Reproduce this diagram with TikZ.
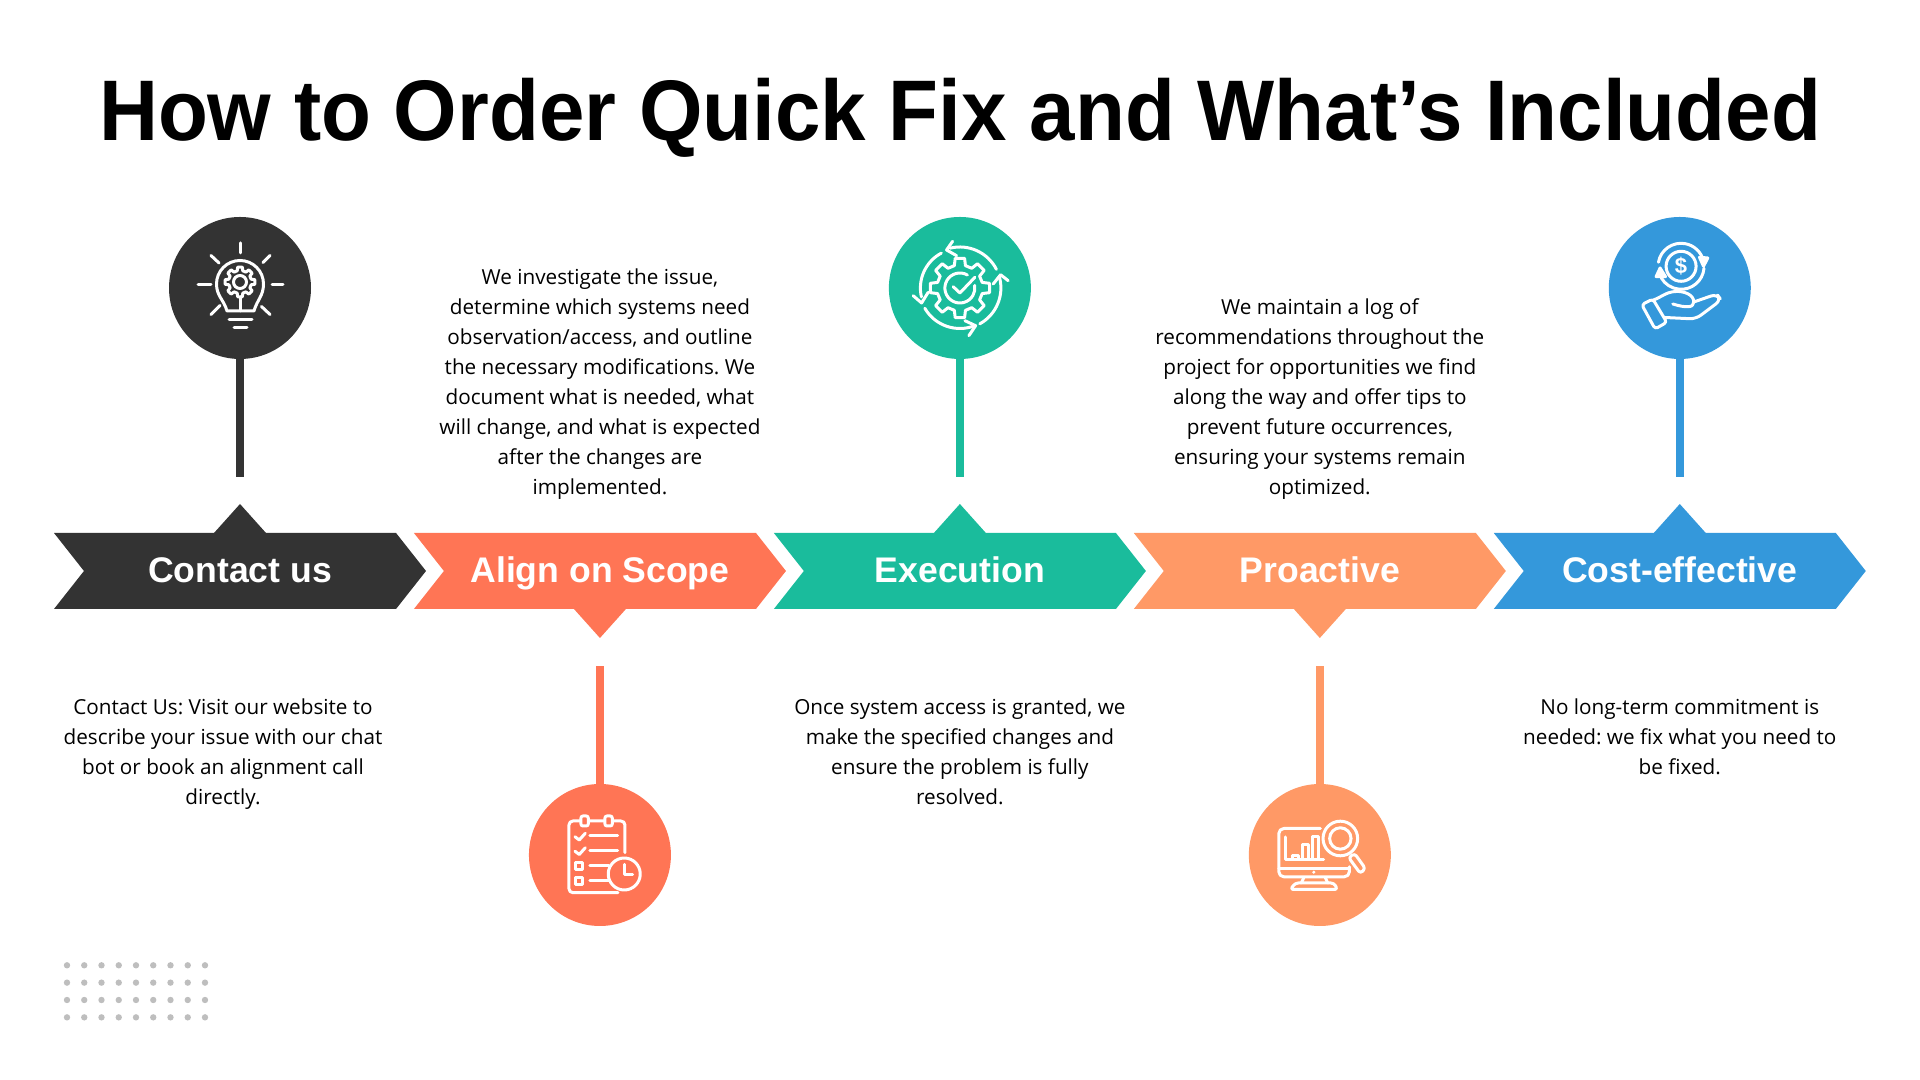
\documentclass[tikz,border=0pt]{standalone}
\usepackage{fontspec}
\setmainfont{Open Sans}
\newfontfamily\headfont{Liberation Sans}
\newfontfamily\titlefont[FakeStretch=.95]{Liberation Sans}
\usetikzlibrary{positioning,calc,shapes.symbols}
\definecolor{cdark}{HTML}{333333}
\definecolor{ccoral}{HTML}{FF7555}
\definecolor{cteal}{HTML}{1ABC9C}
\definecolor{corange}{HTML}{FF9966}
\definecolor{cblue}{HTML}{3498DB}
\definecolor{cdot}{HTML}{BEBEBE}
\tikzset{
  bar/.style   ={signal, signal to=east, signal from=west, signal pointer angle=103.5,
                 minimum width=186pt, minimum height=38pt, inner sep=0pt, outer sep=0pt,
                 text height=16pt, text depth=4.5pt,
                 text=white, font=\headfont\bfseries\fontsize{17.8}{20}\selectfont},
  disc/.style  ={circle, minimum size=71pt, inner sep=0pt, outer sep=0pt},
  stem/.style  ={line width=4pt},
  para/.style  ={align=center, text=black, inner sep=0pt, font=\frenchspacing\fontsize{10.35}{15}\selectfont},
  glyph/.style ={draw=white, line width=1.5pt, line cap=round, line join=round},
}
% cog outline: #1 inner radius, #2 outer radius
\newcommand{\cogpath}[2]{
  (-14:#1) \foreach \a in {0,45,...,315} {-- (\a-14:#1) -- (\a-9:#2) -- (\a+9:#2) -- (\a+14:#1)} -- cycle
}
\newcommand{\iconbulb}{
  \draw[glyph] (-13,-23) .. controls (-16,-12) and (-23.5,-8) .. (-23.5,4) arc[start angle=180, end angle=0, radius=23.5]
     .. controls (23.5,-8) and (17,-12) .. (14,-23) -- cycle;
  \draw[glyph] (0,6) ++(0,0) circle[radius=6.5];
  \begin{scope}[shift={(0,6)}]
    \draw[glyph] \cogpath{11.5}{15};
  \end{scope}
  \draw[glyph] (0,-9) -- (0,-23);
  \draw[glyph] (-11,-31.5) -- (12,-31.5);
  \draw[glyph] (-6,-40) -- (7,-40);
  \draw[glyph] (0,45) -- (0,35);
  \draw[glyph] (-42,3) -- (-29,3);
  \draw[glyph] (32,3) -- (43,3);
  \draw[glyph] (-29,32.5) -- (-21,25);
  \draw[glyph] (30,32.5) -- (23,25.5);
  \draw[glyph] (-29,-26.5) -- (-20,-17.5);
  \draw[glyph] (30,-26.5) -- (21.5,-18.5);
}
\newcommand{\iconlist}{
  \draw[glyph, rounded corners=2pt] (25,2.3) -- (25,34) -- (-31,34) -- (-31,-37.7) -- (18,-37.7);
  \draw[glyph, fill=ccoral, rounded corners=1pt] (-19,29) rectangle (-11.7,39);
  \draw[glyph, fill=ccoral, rounded corners=1pt] (5,29) rectangle (12.3,39);
  \foreach \y in {0,-14.5} {
    \draw[glyph] (-25,18.3+\y) -- (-20.7,15+\y) -- (-14.7,21.7+\y);
  }
  \draw[glyph] (-10,19) -- (17.7,19);
  \draw[glyph] (-10,4) -- (17.7,4);
  \draw[glyph] (-10,-11) -- (9,-11);
  \draw[glyph] (-10,-26) -- (9,-26);
  \draw[glyph] (-24,-14.6) rectangle (-17.4,-8);
  \draw[glyph] (-24,-29.6) rectangle (-17.4,-23);
  \draw[glyph] (24.3,-19) circle[radius=16];
  \draw[glyph] (24.3,-9.3) -- (24.3,-19.3) -- (32.7,-19.3);
}
\newcommand{\iconcycle}{
  \draw[glyph] \cogpath{23}{30};
  \draw[glyph] (60:15) arc[start angle=60, end angle=370, radius=15];
  \draw[glyph] (-6.7,1.3) -- (0,-5) -- (15,10.7);
  \draw[glyph] (27:41) arc[start angle=27, end angle=104, radius=41];
  \draw[glyph] (-7.3,46.7) -- (-13.3,38) -- (-3.3,32.3);
  \draw[glyph] (118:39.5) arc[start angle=118, end angle=193, radius=39.5];
  \draw[glyph] (-46.7,-7.7) -- (-38.3,-15) -- (-31.7,-4.3);
  \draw[glyph] (210:40.5) arc[start angle=210, end angle=292, radius=40.5];
  \draw[glyph] (5,-32.7) -- (15.7,-37.7) -- (9,-47.7);
  \draw[glyph] (299:41) arc[start angle=299, end angle=375, radius=41];
  \draw[glyph] (33.3,4) -- (40.7,13.3) -- (48.3,7.3);
}
\newcommand{\iconscreen}{
  \draw[glyph, rounded corners=2.5pt] (0.5,26.5) -- (-41,26.5) -- (-41,-21.8) -- (29.5,-21.8) -- (29.5,-11.8);
  \draw[glyph] (-41,-13.5) -- (29.5,-13.5);
  \fill[white] (-6,-17.2) circle[radius=1.7];
  \draw[glyph] (-16,-22.5) -- (-18.5,-28);
  \draw[glyph] (5.5,-22.5) -- (7.8,-28);
  \draw[glyph, rounded corners=1.5pt] (-24.5,-28) -- (14,-28) -- (17.8,-34.5) -- (-29.5,-34.5) -- cycle;
  \draw[glyph] (-34,18) -- (-34,-4.5) -- (3.8,-4.5);
  \draw[glyph] (-27.2,-4.5) -- (-27.2,-0.5) -- (-21.8,-0.5) -- (-21.8,-4.5);
  \draw[glyph] (-17.2,-4.5) -- (-17.2,10.8) -- (-11.8,10.8) -- (-11.8,-4.5);
  \draw[glyph] (-7.8,-4.5) -- (-7.8,18) -- (-1.8,18) -- (-1.8,-4.5);
  \draw[glyph] (20.5,16.5) circle[radius=17.3];
  \draw[glyph] (20.5,16.5) circle[radius=10.7];
  \draw[glyph, rounded corners=1.5pt] (28.8,-2.5) -- (34.8,1.5) -- (45.5,-13.5) -- (40.5,-18.5) -- cycle;
}
\newcommand{\iconcoin}{
  \draw[glyph] (1.3,21.7) circle[radius=15];
  \node[text=white, font=\headfont\bfseries\fontsize{11}{11}\selectfont, inner sep=0pt] (dollar) at (1.3,21.7) {\$};
  \draw[glyph] ($(1.3,21.7)+(170:23)$) arc[start angle=170, end angle=15, radius=23];
  \draw[glyph, fill=white] (19.7,30.7) -- (28,30) -- (23.7,21.7) -- cycle;
  \draw[glyph] ($(1.3,21.7)+(-5:23)$) arc[start angle=-5, end angle=-150, radius=23];
  \draw[glyph, fill=white] (-23.7,11.3) -- (-14.3,11.3) -- (-19.7,20) -- cycle;
  \draw[glyph, rounded corners=1.5pt] (-38,-16.7) -- (-27,-11) -- (-13,-34.3) -- (-24.7,-41) -- cycle;
  \draw[glyph] (-26.3,-12) .. controls (-18,-9) and (-14,-4) .. (-4,-3.5)
     .. controls (3,-3) and (14,-6) .. (14,-14) .. controls (14,-20) and (6,-20) .. (-7,-16);
  \draw[glyph, rounded corners=3pt] (14,-14) -- (37,-6) -- (41.3,-12) -- (16,-31) -- (-15,-29.5);
}

\begin{document}
\begin{tikzpicture}[x=.5pt, y=.5pt]
  \useasboundingbox (0,0) rectangle (1920,1080);
  \node[font=\titlefont\bfseries\fontsize{43}{46}\selectfont, inner sep=0pt] (title) at (960,962.5) {How to Order Quick Fix and What’s Included};

  % the five arrows
  \node[bar, fill=cdark] (b1) at (240,509) {Contact us};
  \node[bar, fill=ccoral, right=8.95pt of b1] (b2) {Align on Scope};
  \node[bar, fill=cteal, right=8.95pt of b2] (b3) {Execution};
  \node[bar, fill=corange, right=8.95pt of b3] (b4) {Proactive};
  \node[bar, fill=cblue, right=8.95pt of b4] (b5) {Cost-effective};

  % pips on the arrows
  \fill[cdark] ($(b1.north)+(-26,0)$) -- ($(b1.north)+(0,29)$) -- ($(b1.north)+(26,0)$) -- cycle;
  \fill[ccoral] ($(b2.south)+(-26,0)$) -- ($(b2.south)+(0,-29)$) -- ($(b2.south)+(26,0)$) -- cycle;
  \fill[cteal] ($(b3.north)+(-26,0)$) -- ($(b3.north)+(0,29)$) -- ($(b3.north)+(26,0)$) -- cycle;
  \fill[corange] ($(b4.south)+(-26,0)$) -- ($(b4.south)+(0,-29)$) -- ($(b4.south)+(26,0)$) -- cycle;
  \fill[cblue] ($(b5.north)+(-26,0)$) -- ($(b5.north)+(0,29)$) -- ($(b5.north)+(26,0)$) -- cycle;

  % discs and stems
  \node[disc, fill=cdark, above=87pt of b1] (c1) {};
  \node[disc, fill=ccoral, below=87.5pt of b2] (c2) {};
  \node[disc, fill=cteal, above=87pt of b3] (c3) {};
  \node[disc, fill=corange, below=87.5pt of b4] (c4) {};
  \node[disc, fill=cblue, above=87pt of b5] (c5) {};
  \coordinate[below=59pt of c1.south] (e1);
  \coordinate[above=59pt of c2.north] (e2);
  \coordinate[below=59pt of c3.south] (e3);
  \coordinate[above=59pt of c4.north] (e4);
  \coordinate[below=59pt of c5.south] (e5);
  \draw[stem, cdark] (c1) -- (e1);
  \draw[stem, ccoral] (c2) -- (e2);
  \draw[stem, cteal] (c3) -- (e3);
  \draw[stem, corange] (c4) -- (e4);
  \draw[stem, cblue] (c5) -- (e5);

  % icons
  \begin{scope}[shift={(c1.center)}] \iconbulb \end{scope}
  \begin{scope}[shift={(c2.center)}] \iconlist \end{scope}
  \begin{scope}[shift={(c3.center)}] \iconcycle \end{scope}
  \begin{scope}[shift={(c4.center)}] \iconscreen \end{scope}
  \begin{scope}[shift={(c5.center)}] \iconcoin \end{scope}

  % descriptions
  \node[para, below=44.5pt of b1, xshift=-8.5pt] (t1) {Contact Us: Visit our website to\\describe your issue with our chat\\bot or book an alignment call\\directly.};
  \node[para, above=16.5pt of b2] (t2) {We investigate the issue,\\determine which systems need\\observation/access, and outline\\the necessary modifications. We\\document what is needed, what\\will change, and what is expected\\after the changes are\\implemented.};
  \node[para, below=44.5pt of b3] (t3) {Once system access is granted, we\\make the specified changes and\\ensure the problem is fully\\resolved.};
  \node[para, above=16.5pt of b4] (t4) {We maintain a log of\\recommendations throughout the\\project for opportunities we find\\along the way and offer tips to\\prevent future occurrences,\\ensuring your systems remain\\optimized.};
  \node[para, below=44.5pt of b5] (t5) {No long-term commitment is\\needed: we fix what you need to\\be fixed.};

  % dot grid
  \foreach \i in {0,...,8} \foreach \j in {0,...,3}
    \fill[cdot] (67+17.25*\i,114.7-17.35*\j) circle[radius=3.2];
\end{tikzpicture}
\end{document}
